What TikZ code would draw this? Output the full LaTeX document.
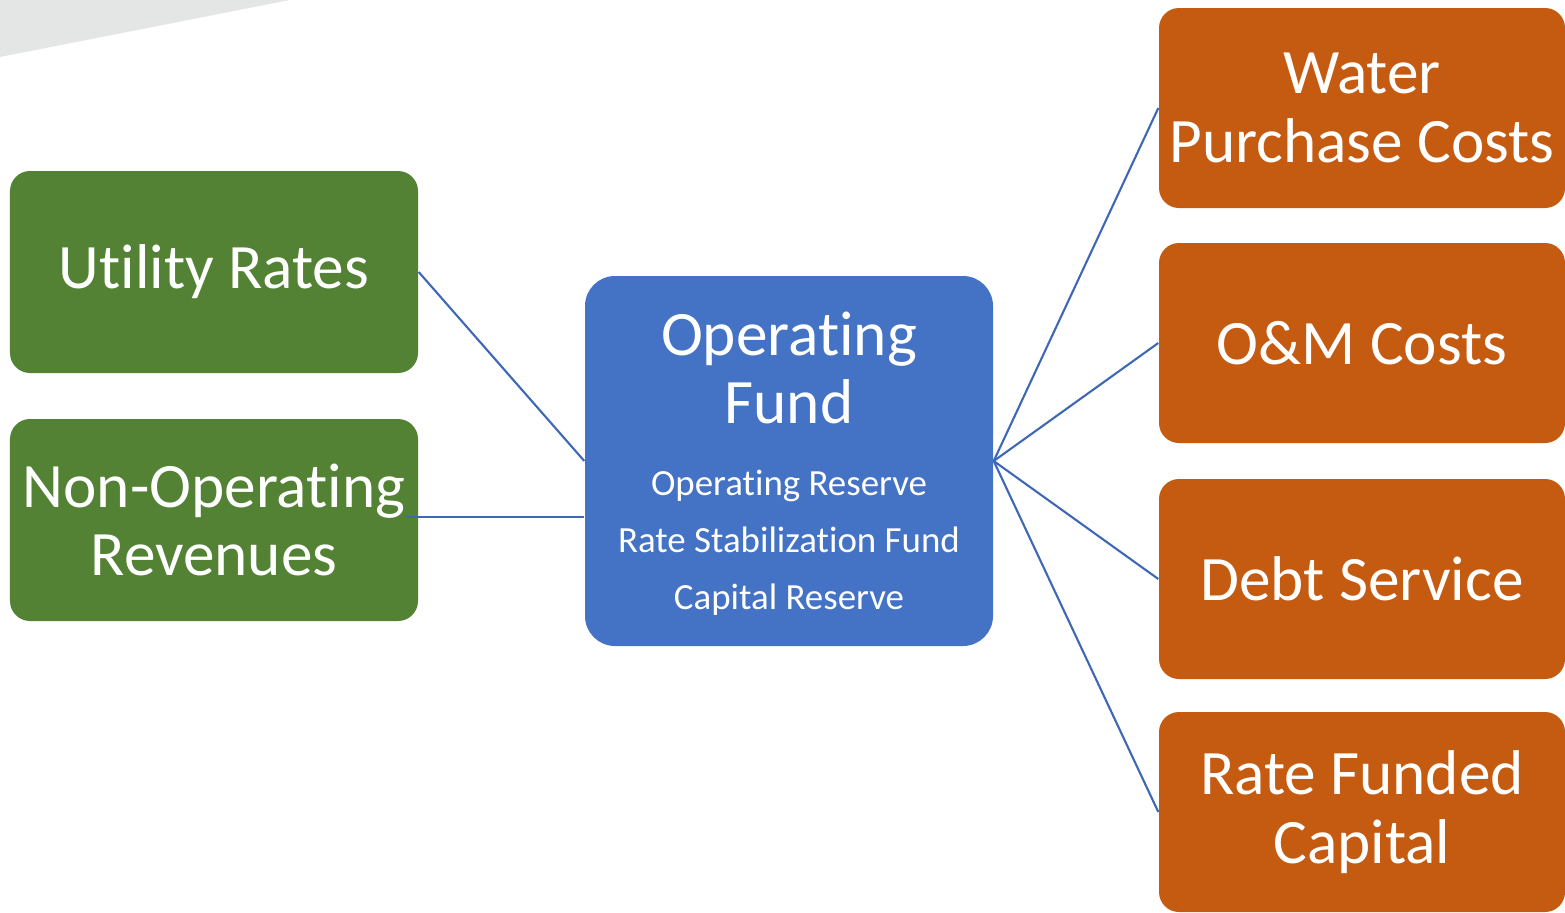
\documentclass[tikz,border=0pt]{standalone}
\usepackage{fontspec}
\setmainfont{Carlito}[RawFeature = -liga, RawFeature = -clig, RawFeature = -calt, RawFeature = -dlig]
\usepackage{tikz}
\usetikzlibrary{positioning}
\definecolor{revgreen}{HTML}{548235}
\definecolor{fundblue}{HTML}{4472C4}
\definecolor{costorange}{HTML}{C55A11}
\definecolor{linkblue}{HTML}{3E67B6}
\definecolor{bandgray}{HTML}{E4E5E5}
\tikzstyle{box} = [rounded corners = .2cm, inner sep = 0, text = white, align = center,
                   font = \fontsize{18}{19.5}\selectfont]
\tikzstyle{source box} = [box, fill = revgreen, minimum width = 4.08cm, minimum height = 2.02cm]
\tikzstyle{cost box} = [box, fill = costorange, minimum width = 4.06cm, minimum height = 2.0cm]
\tikzstyle{fund box} = [box, fill = fundblue, rounded corners = .3cm, minimum width = 4.08cm,
                        minimum height = 3.7cm]
\tikzstyle{link} = [draw = linkblue, line width = .6pt]
\newcommand{\reserves}{\fontsize{10.5}{16.2}\selectfont
    \begin{tabular}[t]{@{}c@{}}Operating Reserve\\Rate Stabilization Fund\\Capital Reserve\end{tabular}}

\begin{document}
\begin{tikzpicture}
    \useasboundingbox (0, 0) rectangle (15.65, -9.12);

    % grey band in the corner
    \fill [bandgray] (0, 0) -- (2.9, 0) -- (0, -.57) -- cycle;

    % revenue sources
    \node [source box] (source_0) at (2.14, -2.72) {Utility Rates};
    \node [source box] (source_1) at (2.14, -5.20) {Non-Operating\\Revenues};

    % the fund in the middle
    \node [fund box] (fund) at (7.89, -4.61) {\rule{0pt}{17pt}Operating\\Fund\\[1pt]\reserves};

    % costs paid out of the fund
    \foreach \i/\y/\t in {0/1.08/{Water\\Purchase Costs}, 1/3.43/{O\&M Costs},
                          2/5.79/{Debt Service}, 3/8.12/{Rate Funded\\Capital}}
    {
        \node [cost box] (cost_\i) at (13.62, -\y) {\t};
        \path [link] (fund.east) -- (cost_\i.west);
    }

    \path [link] (source_0.east) -- (fund.west);
    \path [link] ([xshift = -1.3mm, yshift = .3mm] source_1.east) -- ([yshift = .3mm] source_1.east -| fund.west);
\end{tikzpicture}
\end{document}
